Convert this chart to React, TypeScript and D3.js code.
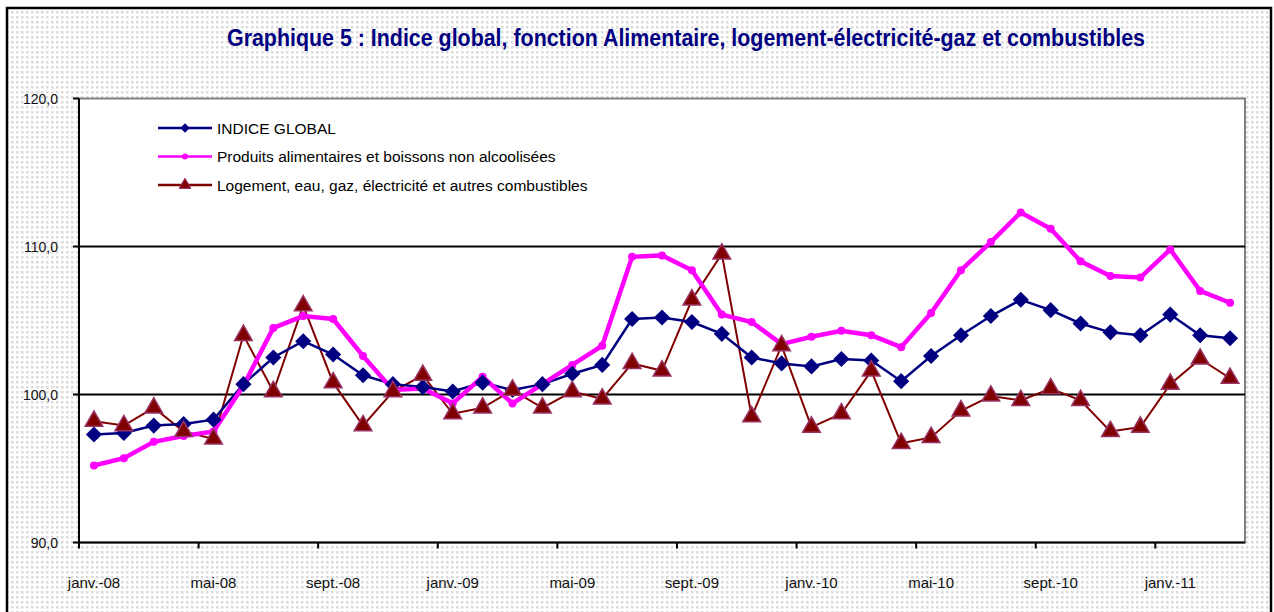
import React from "react";
import * as d3 from "d3";

const monthNames = ["janv.", "févr.", "mars", "avr.", "mai", "juin", "juil.", "août", "sept.", "oct.", "nov.", "déc."];
const years = ["08", "09", "10", "11"];

// 39 months: janv.-08 .. mars-11
const categories = years
  .flatMap((y) => monthNames.map((m) => `${m}-${y}`))
  .slice(0, 39);

const indiceGlobal = [
  97.3, 97.4, 97.9, 98.0, 98.3, 100.7, 102.5, 103.6, 102.7, 101.3,
  100.7, 100.5, 100.2, 100.8, 100.3, 100.7, 101.4, 102.0, 105.1, 105.2,
  104.9, 104.1, 102.5, 102.1, 101.9, 102.4, 102.3, 100.9, 102.6, 104.0,
  105.3, 106.4, 105.7, 104.8, 104.2, 104.0, 105.4, 104.0, 103.8,
];

const alimentaires = [
  95.2, 95.7, 96.8, 97.2, 97.5, 100.6, 104.5, 105.3, 105.1, 102.6,
  100.3, 100.4, 99.4, 101.2, 99.4, 100.7, 102.0, 103.3, 109.3, 109.4,
  108.4, 105.4, 104.9, 103.4, 103.9, 104.3, 104.0, 103.2, 105.5, 108.4,
  110.3, 112.3, 111.2, 109.0, 108.0, 107.9, 109.8, 107.0, 106.2,
];

const logement = [
  98.2, 97.9, 99.1, 97.5, 97.0, 104.0, 100.2, 106.0, 100.8, 97.9,
  100.2, 101.3, 98.7, 99.1, 100.3, 99.1, 100.2, 99.7, 102.1, 101.6,
  106.4, 109.5, 98.5, 103.3, 97.8, 98.7, 101.6, 96.7, 97.1, 98.9,
  99.9, 99.6, 100.4, 99.6, 97.5, 97.8, 100.7, 102.4, 101.1,
];

const yTicks = [90, 100, 110, 120];
const gridValues = [100, 110];

const seriesNames = [
  "INDICE  GLOBAL",
  "Produits alimentaires et boissons  non alcoolisées",
  "Logement, eau, gaz, électricité et autres combustibles",
];

const font = "'Liberation Sans', Arial, sans-serif";
const navy = "#000080";
const magenta = "#FF00FF";
const brown = "#800000";
const triStroke = "#993366";

// square turned 45° = Excel-style diamond
const diamond = d3.symbol().type(d3.symbolSquare);
const triangle = d3.symbol().type(d3.symbolTriangle);

export default function App() {
  const W = 1274;
  const H = 612;
  const plot = { left: 79, right: 1245, top: 98.5, bottom: 542.5 };

  const x = d3
    .scaleBand<string>()
    .domain(categories)
    .range([plot.left, plot.right])
    .padding(0);
  const y = d3.scaleLinear().domain([90, 120]).range([plot.bottom, plot.top]);
  const cx = (i: number) => (x(categories[i]) as number) + x.bandwidth() / 2;

  const line = d3
    .line<number>()
    .x((_, i) => cx(i))
    .y((d) => y(d));

  const tickCats = categories.filter((_, i) => i % 4 === 0);

  const legendRows = [
    { name: seriesNames[0], color: navy, marker: "diamond" },
    { name: seriesNames[1], color: magenta, marker: "circle" },
    { name: seriesNames[2], color: brown, marker: "triangle" },
  ];

  return (
    <svg
      width={W}
      height={H}
      style={{ position: "absolute", left: 0, top: 0, display: "block" }}
      fontFamily={font}
    >
      <defs>
        <pattern id="dots" width="5" height="5" patternUnits="userSpaceOnUse">
          <rect width="5" height="5" fill="#ffffff" />
          <rect x="1" y="1" width="2.5" height="2.5" fill="#dadada" />
        </pattern>
      </defs>
      <rect x={0} y={0} width={W} height={H} fill="#ffffff" />
      <rect x={7} y={8} width={1264} height={H} fill="url(#dots)" stroke="#000" strokeWidth={2.5} />

      <text
        x={686}
        y={46}
        textAnchor="middle"
        fontFamily="'Liberation Sans Narrow', 'Liberation Sans', Arial, sans-serif"
        fontWeight="bold"
        fontSize={23}
        fill={navy}
        textLength={918}
        lengthAdjust="spacingAndGlyphs"
      >
        Graphique 5 : Indice global, fonction Alimentaire, logement-électricité-gaz et combustibles
      </text>

      {/* plot area */}
      <rect
        x={plot.left}
        y={plot.top}
        width={plot.right - plot.left}
        height={plot.bottom - plot.top}
        fill="#ffffff"
        stroke="#808080"
        strokeWidth={2}
      />
      {gridValues.map((v) => (
        <line key={v} x1={plot.left} x2={plot.right} y1={y(v)} y2={y(v)} stroke="#000" strokeWidth={2} />
      ))}
      <line x1={plot.left} x2={plot.left} y1={plot.top} y2={plot.bottom} stroke="#000" strokeWidth={2} />
      <line x1={plot.left} x2={plot.right} y1={plot.bottom} y2={plot.bottom} stroke="#000" strokeWidth={2} />

      {/* y axis */}
      {yTicks.map((t) => (
        <g key={t}>
          <line x1={plot.left - 6} x2={plot.left} y1={y(t)} y2={y(t)} stroke="#000" strokeWidth={2} />
          <text x={58} y={y(t) + 5} textAnchor="end" fontSize={14} fill="#111">
            {t.toFixed(1).replace(".", ",")}
          </text>
        </g>
      ))}

      {/* x axis */}
      {tickCats.map((c) => {
        const x0 = x(c) as number;
        return (
          <g key={c}>
            <line x1={x0} x2={x0} y1={plot.bottom} y2={plot.bottom + 6} stroke="#000" strokeWidth={2} />
            <text x={x0 + x.bandwidth() / 2} y={588} textAnchor="middle" fontSize={15} fill="#111">
              {c}
            </text>
          </g>
        );
      })}

      {/* logement */}
      <path d={line(logement) ?? ""} fill="none" stroke={brown} strokeWidth={2} />
      {/* indice global */}
      <path d={line(indiceGlobal) ?? ""} fill="none" stroke={navy} strokeWidth={2.5} />
      {/* alimentaires */}
      <path d={line(alimentaires) ?? ""} fill="none" stroke={magenta} strokeWidth={4.5} />

      {alimentaires.map((v, i) => (
        <circle key={"a" + i} cx={cx(i)} cy={y(v)} r={4} fill={magenta} />
      ))}
      {indiceGlobal.map((v, i) => (
        <path
          key={"g" + i}
          d={diamond.size(130)() ?? ""}
          transform={`translate(${cx(i)},${y(v)}) rotate(45)`}
          fill={navy}
        />
      ))}
      {logement.map((v, i) => (
        <path
          key={"l" + i}
          d={triangle.size(135)() ?? ""}
          transform={`translate(${cx(i)},${y(v)})`}
          fill={brown}
          stroke={triStroke}
          strokeWidth={1.5}
        />
      ))}

      {/* legend */}
      {legendRows.map((r, k) => {
        const ly = 128 + k * 28.5;
        return (
          <g key={r.name}>
            <line x1={158} x2={212} y1={ly} y2={ly} stroke={r.color} strokeWidth={2.5} />
            {r.marker === "diamond" && (
              <path d={diamond.size(45)() ?? ""} transform={`translate(185,${ly}) rotate(45)`} fill={navy} />
            )}
            {r.marker === "circle" && <circle cx={185} cy={ly} r={3} fill={magenta} />}
            {r.marker === "triangle" && (
              <path
                d={triangle.size(60)() ?? ""}
                transform={`translate(185,${ly})`}
                fill={brown}
                stroke={triStroke}
                strokeWidth={1}
              />
            )}
            <text x={217} y={ly + 5.5} fontSize={15.5} fill="#000">
              {r.name}
            </text>
          </g>
        );
      })}
    </svg>
  );
}
